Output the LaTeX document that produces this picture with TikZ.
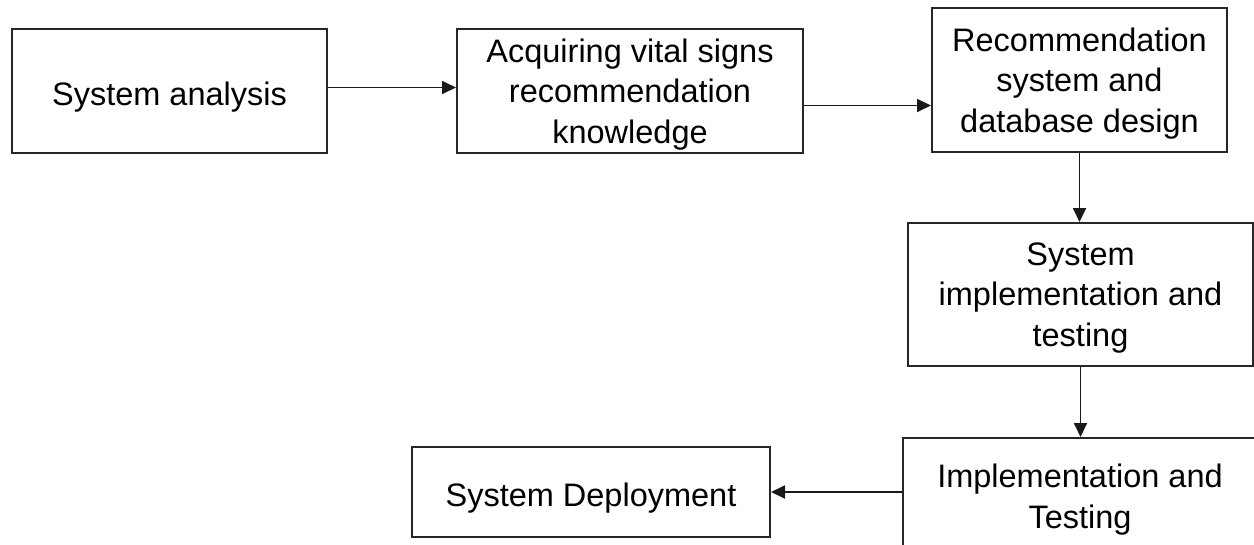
\documentclass[tikz,border=0pt]{standalone}
\usepackage{fontspec}
\setmainfont{Liberation Sans}
\usetikzlibrary{arrows.meta}
\begin{document}
\begin{tikzpicture}[x=1pt,y=-1pt,
  stage/.style={draw=black!85, line width=2pt, fill=white, align=center,
    inner sep=0pt, text depth=-4pt, font=\fontsize{32.5}{40.5}\selectfont,
    execute at begin node={\rule{0pt}{29pt}}},
  flow/.style={draw=black!90, line width=1.8pt, -{Triangle[length=14pt,width=13pt]}}]
\useasboundingbox (0,0) rectangle (1254,544);
\clip (0,0) rectangle (1254,544);

% process stages
\node[stage, minimum width=315pt, minimum height=124pt] (b1) at (169.5,91)
  {System analysis};
\node[stage, minimum width=346pt, minimum height=124pt] (b2) at (630,91)
  {Acquiring vital signs\\recommendation\\knowledge};
\node[stage, minimum width=295pt, minimum height=144pt] (b3) at (1079.5,80)
  {Recommendation\\system and\\database design};
\node[stage, minimum width=345pt, minimum height=143pt] (b4) at (1080.5,294.5)
  {System\\implementation and\\testing};
\node[stage, minimum width=354pt, minimum height=116pt] (b5) at (1080,496)
  {Implementation and\\Testing};
\node[stage, minimum width=358pt, minimum height=90pt] (b6) at (591,492)
  {System Deployment};

% connectors
\coordinate (o1) at ([yshift=3.5pt]b1.east);
\draw[flow] (o1) -- (o1 -| b2.west);
\coordinate (o2) at ([yshift=-14.5pt]b2.east);
\draw[flow] (o2) -- (o2 -| b3.west);
\draw[flow] (b3.south) -- (b3.south |- b4.north);
\draw[flow] (b4.south) -- (b4.south |- b5.north);
\draw[flow] (b6.east -| b5.west) -- (b6.east);
\end{tikzpicture}
\end{document}
